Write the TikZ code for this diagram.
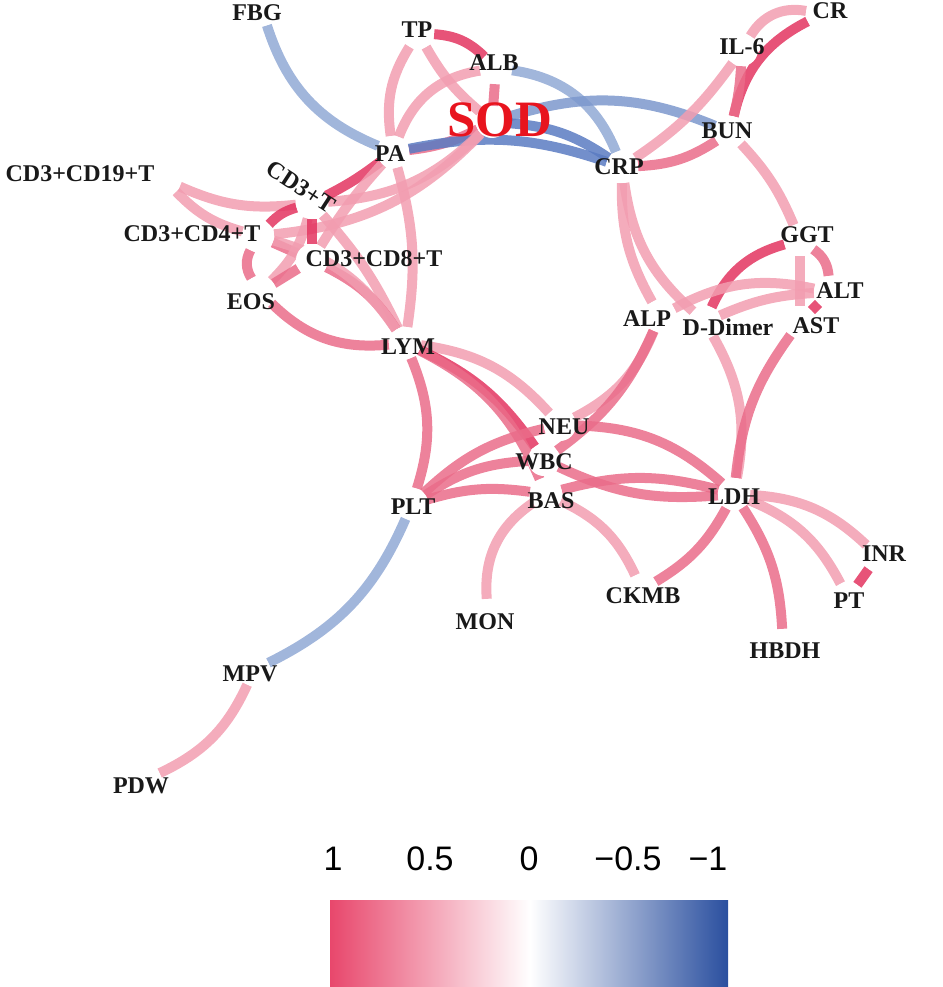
\documentclass[tikz,border=0pt]{standalone}
\usepackage{fontspec}
\setmainfont{Liberation Serif}
\newfontfamily\barfont{Liberation Sans}
\pgfdeclarelayer{edgelayer}
\pgfsetlayers{edgelayer,main}
\definecolor{cS}{HTML}{E33560}
\definecolor{cM}{HTML}{EA6C89}
\definecolor{cL}{HTML}{F29DB0}
\definecolor{cBL}{HTML}{91A9D5}
\definecolor{cBM}{HTML}{7C98CD}
\definecolor{cBD}{HTML}{5A7BC2}
\definecolor{cbR}{HTML}{E8476C}
\definecolor{cbB}{HTML}{2A4F9F}
\definecolor{sodred}{HTML}{E8141E}
\tikzset{
  vtx/.style={circle, fill=white, draw=none, minimum size=32pt, inner sep=0pt},
  lbl/.style={font=\fontsize{24}{24}\selectfont\bfseries, text=black!90, inner sep=0pt},
  ed/.style={line width=10pt, draw opacity=0.85},
  rs/.style={ed, draw=cS},
  rm/.style={ed, draw=cM},
  rl/.style={ed, draw=cL},
  bl/.style={ed, draw=cBL},
  bm/.style={ed, draw=cBM},
  bd/.style={ed, draw=cBD},
  barlbl/.style={font=\barfont\fontsize{34}{34}\selectfont, inner sep=0pt}
}
\begin{document}
\begin{tikzpicture}[x=1pt,y=1pt]
\useasboundingbox (0,0) rectangle (942,-987);
% vertices
\node[vtx] (FBG) at (262,-10) {};
\node[vtx] (TP) at (418,-33) {};
\node[vtx] (ALB) at (496,-68) {};
\node[vtx] (SOD) at (492,-122) {};
\node[vtx] (CR) at (822,-14) {};
\node[vtx] (IL6) at (742,-50) {};
\node[vtx] (BUN) at (730,-132) {};
\node[vtx] (PA) at (393,-152) {};
\node[vtx] (CRP) at (622,-167) {};
\node[vtx] (CD19) at (165,-180) {};
\node[vtx] (CD3T) at (312,-203) {};
\node[vtx] (CD4) at (258,-236) {};
\node[vtx] (CD8) at (312,-260) {};
\node[vtx] (EOS) at (260,-292) {};
\node[vtx] (LYM) at (405,-343) {};
\node[vtx] (PLT) at (412,-504) {};
\node[vtx] (NEU) at (560,-425) {};
\node[vtx] (WBC) at (544,-460) {};
\node[vtx] (BAS) at (546,-494) {};
\node[vtx] (LDH) at (734,-494) {};
\node[vtx] (MON) at (488,-615) {};
\node[vtx] (CKMB) at (642,-590) {};
\node[vtx] (HBDH) at (783,-645) {};
\node[vtx] (PT) at (848,-598) {};
\node[vtx] (INR) at (878,-556) {};
\node[vtx] (MPV) at (254,-670) {};
\node[vtx] (PDW) at (145,-780) {};
\node[vtx] (GGT) at (800,-240) {};
\node[vtx] (ALT) at (830,-292) {};
\node[vtx] (ALP) at (660,-316) {};
\node[vtx] (DD) at (705,-322) {};
\node[vtx] (AST) at (800,-322) {};

\begin{pgfonlayer}{edgelayer}
\draw[bl] (FBG) to[bend right=25] (PA);
\draw[rs] (TP) to[bend left=20] (ALB);
\draw[rl] (TP) to[bend right=20] (PA);
\draw[rl] (TP) to[bend right=10] (SOD);
\draw[rl] (ALB) to[bend right=30] (PA);
\draw[rm] (ALB) -- (SOD);
\draw[bl] (ALB) to[bend left=30] (CRP);
\draw[rm] (PA) to[bend right=10] (SOD);
\draw[bd] (PA) to[bend left=15] (CRP);
\draw[bm] (SOD) to[bend left=20] (BUN);
\draw[bd] (SOD) to[bend left=15] (CRP);
\draw[rl] (CD3T) to[bend right=20] (SOD);
\draw[rl] (CD4) to[bend right=20] (SOD);
\draw[rs] (PA) to[bend left=5] (CD3T);
\draw[rl] (PA) to[bend left=12] (LYM);
\draw[rl] (PA) to[bend right=5] (CD8);
\draw[rl] (CD19) to[bend right=15] (CD3T);
\draw[rl] (CD19) to[bend right=15] (CD4);
\draw[rs] (CD4) to[bend left=15] (CD3T);
\draw[rm] (CD4) -- (CD8);
\draw[rm] (CD4) to[bend right=30] (EOS);
\draw[rl] (CD3T) to[bend left=15] (EOS);
\draw[rm] (CD8) -- (EOS);
\draw[rs] (CD3T) -- (CD8);
\draw[rl] (CD3T) to[bend left=8] (LYM);
\draw[rm] (CD8) to[bend left=15] (LYM);
\draw[rl] (CD4) to[bend left=20] (LYM);
\draw[rm] (EOS) to[bend right=25] (LYM);
\draw[rm] (LYM) to[bend left=20] (PLT);
\draw[rl] (LYM) to[bend left=20] (NEU);
\draw[rs] (LYM) to[bend left=15] (WBC);
\draw[rm] (LYM) to[bend left=20] (BAS);
\draw[rm] (PLT) to[bend left=15] (NEU);
\draw[rm] (PLT) to[bend left=15] (WBC);
\draw[rm] (PLT) to[bend left=12] (BAS);
\draw[rm] (NEU) to[bend left=20] (LDH);
\draw[rm] (WBC) to[bend right=15] (LDH);
\draw[rm] (BAS) to[bend left=15] (LDH);
\draw[rl] (ALP) to[bend left=20] (NEU);
\draw[rm] (ALP) to[bend left=15] (WBC);
\draw[rl] (CRP) to[bend right=15] (ALP);
\draw[rl] (CRP) to[bend right=20] (DD);
\draw[rl] (IL6) to[bend left=10] (CRP);
\draw[rm] (BUN) to[bend left=15] (CRP);
\draw[rl] (CR) to[bend right=35] (IL6);
\draw[rs] (CR) to[bend right=25] (BUN);
\draw[rm] (IL6) to[bend left=5] (BUN);
\draw[rl] (BUN) to[bend left=10] (GGT);
\draw[rs] (GGT) to[bend right=25] (DD);
\draw[rl] (GGT) -- (AST);
\draw[rm] (GGT) to[bend left=25] (ALT);
\draw[rl] (ALP) to[bend left=20] (ALT);
\draw[rl] (DD) to[bend left=10] (ALT);
\draw[rs] (ALT) -- (AST);
\draw[rl] (DD) to[bend left=20] (LDH);
\draw[rm] (AST) to[bend right=15] (LDH);
\draw[rl] (BAS) to[bend right=30] (MON);
\draw[rl] (BAS) to[bend left=20] (CKMB);
\draw[rm] (LDH) to[bend left=15] (CKMB);
\draw[rm] (LDH) to[bend left=15] (HBDH);
\draw[rl] (LDH) to[bend left=20] (PT);
\draw[rl] (LDH) to[bend left=20] (INR);
\draw[rs] (INR) -- (PT);
\draw[bl] (PLT) to[bend left=20] (MPV);
\draw[rl] (MPV) to[bend left=20] (PDW);
\end{pgfonlayer}

% labels
\node[lbl] (FBGl) at (257,-13) {FBG};
\node[lbl] (TPl) at (417,-30) {TP};
\node[lbl] (ALBl) at (494,-63) {ALB};
\node[font=\fontsize{51}{51}\selectfont\bfseries, text=sodred, inner sep=0pt] (SODl) at (500,-120) {SOD};
\node[lbl] (CRl) at (830,-11) {CR};
\node[lbl] (IL6l) at (742,-47) {IL-6};
\node[lbl] (BUNl) at (727,-131) {BUN};
\node[lbl] (PAl) at (390,-154) {PA};
\node[lbl] (CRPl) at (619,-167) {CRP};
\node[lbl] (CD19l) at (80,-174) {CD3+CD19+T};
\node[lbl, rotate=-33] (CD3Tl) at (301,-187) {CD3+T};
\node[lbl] (CD4l) at (192,-234) {CD3+CD4+T};
\node[lbl] (CD8l) at (374,-259) {CD3+CD8+T};
\node[lbl] (EOSl) at (251,-302) {EOS};
\node[lbl] (LYMl) at (408,-347) {LYM};
\node[lbl] (PLTl) at (413,-507) {PLT};
\node[lbl] (NEUl) at (564,-427) {NEU};
\node[lbl] (WBCl) at (544,-462) {WBC};
\node[lbl] (BASl) at (551,-501) {BAS};
\node[lbl] (LDHl) at (734,-497) {LDH};
\node[lbl] (MONl) at (485,-622) {MON};
\node[lbl] (CKMBl) at (643,-596) {CKMB};
\node[lbl] (HBDHl) at (785,-651) {HBDH};
\node[lbl] (PTl) at (849,-601) {PT};
\node[lbl] (INRl) at (884,-554) {INR};
\node[lbl] (MPVl) at (250,-674) {MPV};
\node[lbl] (PDWl) at (141,-786) {PDW};
\node[lbl] (GGTl) at (807,-235) {GGT};
\node[lbl] (ALTl) at (840,-291) {ALT};
\node[lbl] (ALPl) at (647,-319) {ALP};
\node[lbl] (DDl) at (728,-327) {D-Dimer};
\node[lbl] (ASTl) at (816,-326) {AST};

% colour bar
\shade[left color=cbR, right color=white] (330,-900) rectangle (530,-986);
\shade[left color=white, right color=cbB] (530,-900) rectangle (728,-986);
\node[barlbl] (b1) at (333,-859) {1};
\node[barlbl] (b2) at (430,-859) {0.5};
\node[barlbl] (b3) at (529,-859) {0};
\node[barlbl] (b4) at (628,-859) {−0.5};
\node[barlbl] (b5) at (708,-859) {−1};
\end{tikzpicture}
\end{document}
